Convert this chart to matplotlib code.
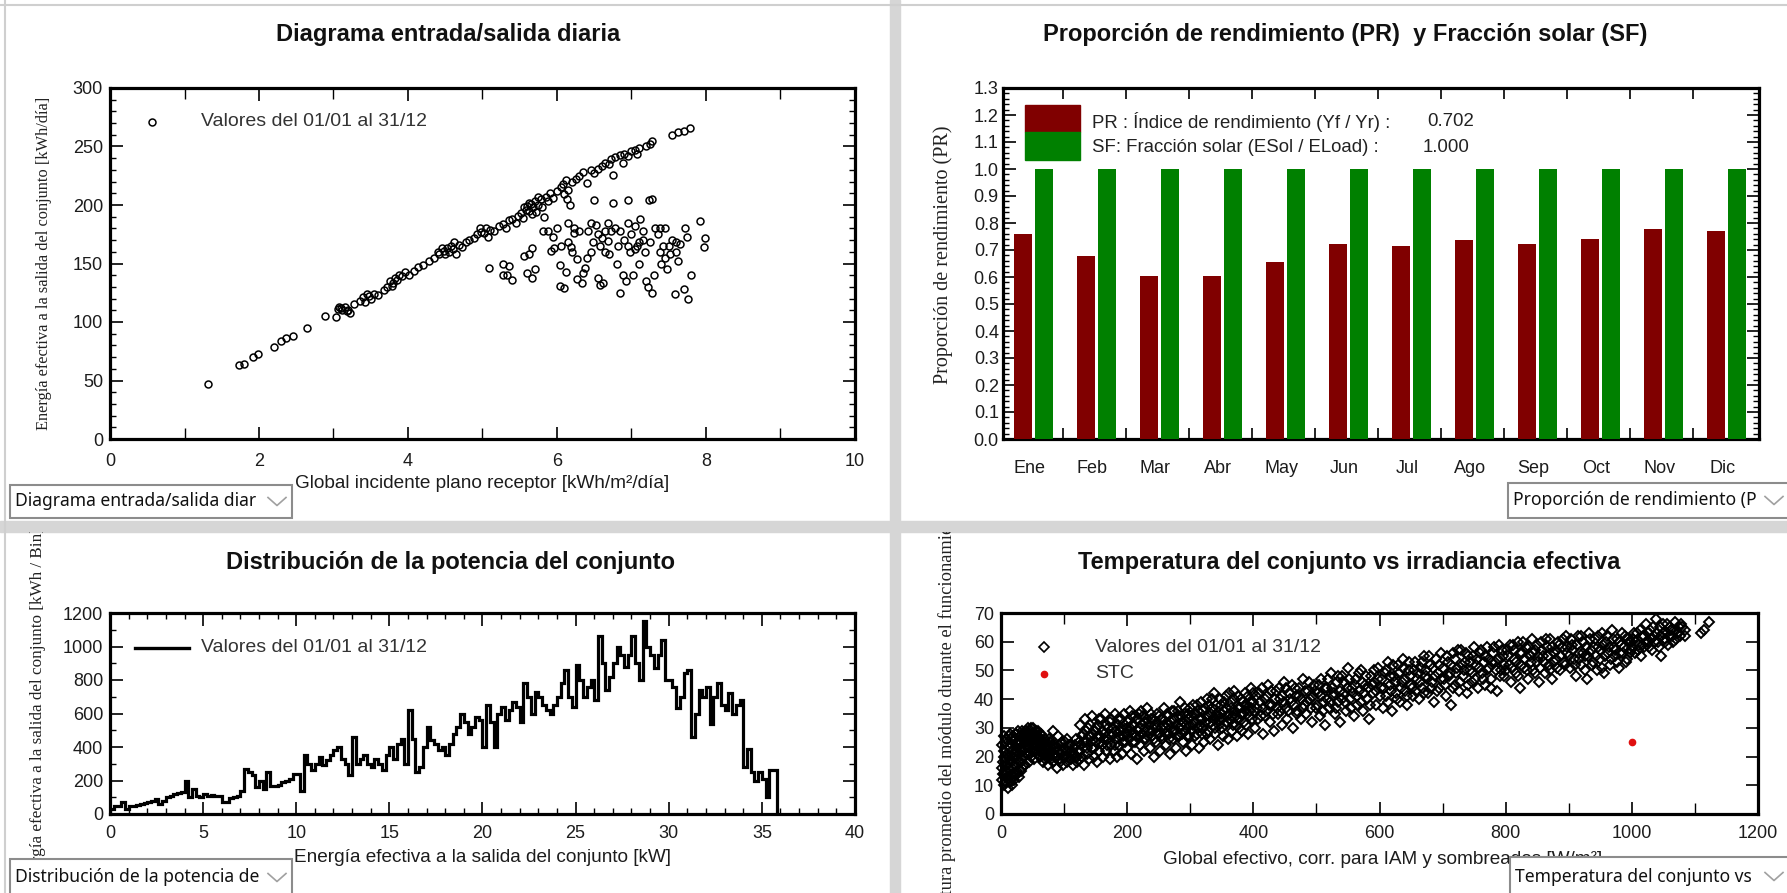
import matplotlib
matplotlib.use("Agg")
import matplotlib.pyplot as plt
import numpy as np
from matplotlib.lines import Line2D
from matplotlib.patches import Rectangle
from matplotlib.ticker import MultipleLocator, FixedLocator, FixedFormatter, FormatStrFormatter
from matplotlib.transforms import Bbox, TransformedBbox

# ---- daily input/output (kWh/m2/day -> kWh/day) ----
daily_points = [
    (1.32, 47), (1.73, 63), (1.80, 64), (1.92, 70), (1.98, 73), (2.20, 79), (2.30, 84), (2.36, 86),
    (2.45, 88), (2.64, 95), (2.88, 105), (3.04, 104), (3.06, 111), (3.08, 113), (3.10, 112), (3.12, 110),
    (3.15, 113), (3.18, 109), (3.20, 110), (3.22, 108), (3.27, 115), (3.35, 118), (3.40, 121), (3.42, 117),
    (3.45, 124), (3.47, 122), (3.50, 120), (3.55, 124), (3.60, 123), (3.68, 127), (3.72, 130), (3.76, 135),
    (3.78, 131), (3.80, 133), (3.82, 138), (3.85, 136), (3.88, 140), (3.92, 139), (3.96, 143), (4.02, 140),
    (4.08, 144), (4.14, 147), (4.20, 149), (4.28, 152), (4.35, 155), (4.40, 160), (4.42, 158), (4.46, 163),
    (4.48, 161), (4.50, 158), (4.52, 163), (4.55, 160), (4.58, 165), (4.60, 162), (4.62, 168), (4.65, 158),
    (4.68, 166), (4.72, 164), (4.78, 168), (4.82, 170), (4.88, 172), (4.92, 175), (4.96, 180), (4.98, 177),
    (5.02, 176), (5.05, 180), (5.08, 173), (5.10, 179), (5.15, 178), (5.22, 182), (5.28, 184), (5.32, 180),
    (5.36, 187), (5.40, 188), (5.45, 185), (5.48, 191), (5.52, 193), (5.55, 189), (5.56, 198), (5.58, 196),
    (5.60, 199), (5.62, 195), (5.63, 202), (5.65, 201), (5.66, 192), (5.68, 198), (5.70, 203), (5.72, 194),
    (5.74, 207), (5.75, 200), (5.78, 205), (5.80, 198), (5.82, 190), (5.85, 207), (5.88, 203), (5.90, 210),
    (5.95, 206), (6.00, 212), (6.05, 215), (6.08, 218), (6.10, 209), (6.12, 221), (6.14, 205), (6.15, 213),
    (6.18, 200), (6.20, 220), (6.25, 222), (6.30, 225), (6.35, 228), (6.40, 219), (6.45, 230), (6.50, 227),
    (6.55, 231), (6.60, 233), (6.65, 236), (6.70, 235), (6.72, 239), (6.75, 226), (6.78, 241), (6.85, 243),
    (6.88, 236), (6.90, 244), (6.95, 242), (7.00, 246), (7.05, 247), (7.08, 244), (7.10, 249), (7.20, 250),
    (7.25, 252), (7.27, 255), (7.55, 260), (7.62, 262), (7.70, 263), (7.78, 266),
    # days limited below the clear-sky line
    (5.09, 146), (5.27, 150), (5.27, 140), (5.36, 148), (5.33, 140), (5.40, 136), (5.56, 156), (5.62, 158),
    (5.60, 142), (5.67, 138), (5.67, 163), (5.81, 178), (5.88, 178), (5.92, 161), (5.96, 163), (6.04, 149),
    (6.04, 131), (6.12, 143), (6.10, 129), (6.15, 168), (6.19, 164), (6.23, 180), (6.23, 176), (6.27, 154),
    (6.27, 137), (6.33, 133), (6.35, 142), (6.38, 146), (6.42, 178), (6.45, 160), (6.48, 168), (6.50, 204),
    (6.52, 183), (6.55, 175), (6.58, 165), (6.60, 172), (6.62, 133), (6.64, 160), (6.68, 185), (6.70, 158),
    (6.72, 178), (6.75, 202), (6.78, 180), (6.80, 150), (6.82, 165), (6.85, 125), (6.88, 140), (6.90, 170),
    (6.92, 135), (6.95, 185), (6.98, 160), (7.00, 175), (7.02, 140), (7.05, 182), (7.08, 165), (7.10, 150),
    (7.12, 188), (7.15, 170), (7.18, 160), (7.20, 135), (7.22, 130), (7.25, 168), (7.27, 125), (7.28, 205),
    (7.30, 140), (7.32, 180), (7.35, 175), (7.38, 160), (7.40, 150), (7.42, 165), (7.45, 180), (7.48, 145),
    (7.50, 165), (7.52, 158), (7.55, 170), (7.58, 124), (7.60, 168), (7.62, 152), (7.65, 167), (7.70, 128),
    (7.72, 180), (7.74, 173), (7.76, 120), (7.80, 140), (7.92, 186), (7.97, 164), (7.98, 172), (6.58, 132),
    (6.30, 178), (6.20, 160), (6.95, 165), (7.05, 162), (6.85, 178), (6.45, 185), (6.15, 185), (6.68, 169),
    (7.15, 178), (7.38, 180), (6.40, 155), (6.00, 180), (5.95, 173), (6.05, 165), (6.55, 138), (5.70, 145),
    (7.45, 155), (7.60, 160), (6.95, 204), (7.23, 204), (7.10, 168), (6.65, 178),
]

# ---- monthly performance ratio and solar fraction ----
months = ["Ene", "Feb", "Mar", "Abr", "May", "Jun", "Jul", "Ago", "Sep", "Oct", "Nov", "Dic"]
pr_month = [0.761, 0.677, 0.603, 0.603, 0.656, 0.721, 0.715, 0.736, 0.721, 0.742, 0.776, 0.769]
sf_month = [1.0] * 12
pr_year = 0.702
sf_year = 1.000

# ---- array power distribution, 0.2 kW bins (kWh / bin) ----
power_bin_width = 0.2
power_energy = [
    30, 50, 50, 70, 30, 45, 50, 55, 60, 65,
    70, 80, 90, 60, 75, 100, 105, 120, 125, 130,
    200, 100, 150, 110, 100, 120, 110, 115, 105, 110,
    70, 70, 95, 100, 110, 140, 270, 250, 230, 160,
    200, 150, 250, 170, 165, 175, 190, 200, 210, 240,
    240, 140, 350, 300, 260, 300, 340, 290, 320, 350,
    380, 400, 330, 300, 230, 460, 300, 330, 350, 300,
    280, 330, 300, 260, 350, 400, 330, 420, 450, 300,
    620, 450, 250, 280, 400, 520, 440, 420, 380, 400,
    350, 420, 480, 520, 600, 550, 480, 520, 580, 560,
    400, 650, 550, 400, 600, 640, 560, 620, 670, 640,
    550, 780, 700, 600, 730, 700, 650, 620, 600, 650,
    700, 780, 860, 700, 640, 890, 800, 700, 760, 800,
    680, 1060, 900, 740, 820, 900, 1000, 950, 880, 950,
    1060, 900, 800, 1150, 1000, 950, 870, 950, 1040, 800,
    800, 760, 630, 700, 840, 860, 460, 600, 740, 700,
    760, 540, 700, 780, 650, 620, 720, 600, 650, 680,
    280, 390, 250, 200, 250, 210, 100, 260, 260,
]

# ---- array temperature vs effective irradiance (W/m2, degC) ----
temp_points = [
    (2, 12), (3, 18), (4, 22), (5, 10), (6, 15), (7, 25), (8, 19), (9, 13), (10, 21), (11, 9), (12, 16),
    (13, 27), (14, 23), (15, 11), (16, 18), (17, 14), (18, 24), (19, 20), (20, 12), (21, 26), (22, 17),
    (23, 22), (24, 28), (25, 15), (26, 19), (27, 24), (28, 13), (29, 21), (30, 27), (31, 18), (32, 25),
    (33, 16), (34, 29), (35, 22), (36, 20), (37, 27), (38, 17), (39, 24), (40, 29), (3, 14), (5, 20),
    (7, 11), (9, 17), (12, 23), (14, 19), (16, 26), (18, 10), (22, 14), (26, 25), (30, 23), (34, 19),
    (38, 26), (41, 21), (42, 26), (43, 30), (44, 23), (45, 18), (46, 28), (47, 25), (48, 20), (49, 27),
    (50, 30), (51, 22), (52, 26), (53, 19), (54, 28), (55, 24), (56, 29), (57, 21), (58, 25), (59, 27),
    (60, 23), (62, 20), (63, 26), (64, 28), (65, 22), (66, 18), (67, 24), (68, 21), (70, 19), (71, 25),
    (72, 23), (74, 17), (75, 21), (76, 26), (78, 20), (79, 23), (80, 22), (82, 18), (83, 29), (85, 24),
    (86, 20), (88, 16), (90, 22), (91, 27), (93, 19), (95, 21), (96, 25), (98, 17), (100, 23), (102, 20),
    (104, 18), (105, 26), (107, 22), (109, 19), (110, 24), (112, 21), (114, 17), (115, 23), (117, 20),
    (119, 26), (120, 18), (122, 22), (124, 19), (125, 31), (127, 24), (129, 20), (130, 28), (132, 17),
    (133, 33), (135, 25), (137, 21), (138, 30), (140, 19), (142, 27), (144, 23), (145, 34), (147, 20),
    (149, 29), (150, 25), (152, 18), (154, 31), (156, 22), (157, 27), (159, 33), (160, 24), (162, 20),
    (164, 28), (165, 35), (167, 22), (169, 26), (170, 30), (172, 19), (174, 33), (175, 24), (177, 28),
    (179, 22), (180, 35), (182, 26), (184, 20), (185, 31), (187, 24), (189, 29), (190, 33), (192, 21),
    (194, 27), (195, 35), (197, 25), (199, 30), (200, 23), (202, 28), (204, 36), (206, 21), (208, 31),
    (210, 25), (212, 34), (214, 27), (216, 19), (218, 30), (220, 24), (222, 36), (224, 28), (226, 22),
    (228, 32), (230, 26), (232, 37), (234, 29), (236, 23), (238, 33), (240, 27), (242, 20), (244, 31),
    (246, 25), (248, 35), (250, 28), (252, 22), (254, 33), (256, 26), (258, 37), (260, 30), (262, 24),
    (264, 34), (266, 28), (268, 21), (270, 32), (272, 26), (274, 36), (276, 29), (278, 23), (280, 34),
    (282, 27), (284, 39), (286, 31), (288, 25), (290, 35), (292, 29), (294, 22), (296, 33), (298, 27),
    (300, 37), (302, 24), (304, 31), (306, 35), (308, 27), (310, 38), (312, 30), (314, 23), (316, 33),
    (318, 28), (320, 36), (322, 25), (324, 32), (326, 40), (328, 29), (330, 34), (332, 26), (334, 37),
    (336, 31), (338, 42), (340, 28), (342, 35), (344, 24), (346, 33), (348, 38), (350, 30), (352, 27),
    (354, 36), (356, 41), (358, 32), (360, 26), (362, 35), (364, 39), (366, 29), (368, 34), (370, 43),
    (372, 31), (374, 27), (376, 37), (378, 33), (380, 40), (382, 29), (384, 35), (386, 42), (388, 31),
    (390, 38), (392, 28), (394, 36), (396, 44), (398, 33), (400, 39), (403, 30), (406, 37), (409, 42),
    (412, 34), (415, 28), (418, 40), (421, 36), (424, 45), (427, 32), (430, 38), (433, 29), (436, 43),
    (439, 35), (442, 40), (445, 31), (448, 46), (451, 37), (454, 33), (457, 42), (460, 39), (463, 30),
    (466, 44), (469, 36), (472, 41), (475, 33), (478, 47), (481, 38), (484, 35), (487, 43), (490, 40),
    (493, 32), (496, 45), (499, 37), (502, 42), (505, 34), (508, 47), (511, 39), (514, 31), (517, 44),
    (520, 37), (523, 49), (526, 41), (529, 35), (532, 46), (535, 39), (538, 32), (541, 48), (544, 42),
    (547, 36), (550, 51), (553, 40), (556, 44), (559, 34), (562, 47), (565, 38), (568, 43), (571, 50),
    (574, 36), (577, 45), (580, 40), (583, 33), (586, 48), (589, 42), (592, 46), (595, 38), (598, 51),
    (602, 44), (605, 37), (608, 49), (611, 41), (614, 53), (617, 45), (620, 36), (623, 48), (626, 42),
    (629, 52), (632, 39), (635, 46), (638, 54), (641, 43), (644, 38), (647, 50), (650, 45), (653, 41),
    (656, 53), (659, 47), (662, 40), (665, 51), (668, 44), (671, 55), (674, 48), (677, 42), (680, 52),
    (683, 46), (686, 39), (689, 54), (692, 49), (695, 44), (698, 56), (702, 47), (705, 41), (708, 53),
    (711, 49), (714, 38), (717, 56), (720, 45), (723, 51), (726, 43), (729, 57), (732, 48), (735, 53),
    (738, 42), (741, 55), (744, 50), (747, 46), (750, 58), (753, 52), (756, 44), (759, 56), (762, 49),
    (765, 53), (768, 45), (771, 58), (774, 51), (777, 47), (780, 56), (783, 53), (786, 43), (789, 59),
    (792, 50), (795, 55), (798, 48), (802, 57), (805, 52), (808, 46), (811, 59), (814, 54), (817, 49),
    (820, 60), (823, 44), (826, 56), (829, 51), (832, 58), (835, 47), (838, 55), (841, 61), (844, 50),
    (847, 57), (850, 53), (853, 46), (856, 60), (859, 55), (862, 49), (865, 58), (868, 52), (871, 61),
    (874, 47), (877, 56), (880, 54), (883, 60), (886, 50), (889, 58), (892, 53), (895, 62), (898, 56),
    (902, 51), (905, 59), (908, 54), (911, 48), (914, 62), (917, 56), (920, 52), (923, 60), (926, 55),
    (929, 47), (932, 63), (935, 57), (938, 53), (941, 61), (944, 50), (947, 58), (950, 54), (953, 63),
    (956, 49), (959, 60), (962, 56), (965, 52), (968, 64), (971, 58), (974, 55), (977, 61), (980, 51),
    (983, 59), (986, 56), (989, 62), (992, 54), (995, 60), (998, 57), (1002, 61), (1005, 56), (1008, 63),
    (1011, 59), (1014, 55), (1017, 62), (1020, 58), (1023, 66), (1026, 60), (1029, 64), (1032, 57),
    (1035, 62), (1038, 68), (1041, 60), (1044, 65), (1047, 55), (1050, 63), (1053, 60), (1056, 66),
    (1059, 62), (1062, 64), (1065, 60), (1068, 67), (1071, 63), (1074, 65), (1078, 66), (1085, 64),
    (1110, 63), (1115, 64), (1122, 67),
    (1, 16), (2, 24), (4, 14), (5, 27), (6, 20), (8, 11), (8, 26), (10, 15), (11, 24), (13, 20), (14, 12),
    (15, 28), (17, 22), (18, 16), (19, 27), (21, 13), (22, 21), (23, 28), (25, 23), (26, 14), (27, 29),
    (28, 18), (29, 25), (31, 22), (32, 15), (33, 28), (35, 26), (36, 17), (37, 23), (39, 21), (40, 25),
    (41, 28), (43, 24), (44, 27), (45, 29), (46, 21), (47, 30), (48, 26), (50, 24), (51, 28), (53, 25),
    (54, 22), (55, 27), (57, 26), (58, 29), (60, 26), (61, 22), (62, 28), (64, 24), (66, 25), (67, 21),
    (69, 23), (70, 26), (72, 20), (73, 24), (75, 23), (77, 22), (78, 25), (80, 19), (81, 24), (84, 21),
    (87, 23), (89, 20), (92, 24), (94, 18), (97, 22), (99, 20), (101, 25), (103, 22), (106, 20), (108, 24),
    (111, 19), (113, 22), (116, 21), (118, 24), (121, 20), (123, 25), (126, 22), (128, 27), (131, 25),
    (134, 29), (136, 23), (139, 27), (141, 31), (143, 25), (146, 28), (148, 23), (151, 30), (153, 27),
    (155, 33), (158, 25), (161, 29), (163, 26), (166, 31), (168, 24), (171, 28), (173, 32), (176, 27),
    (178, 30), (181, 24), (183, 29), (186, 33), (188, 27), (191, 30), (193, 25), (196, 31), (198, 28),
    (201, 32), (203, 26), (205, 30), (207, 34), (209, 28), (211, 31), (213, 25), (215, 33), (217, 29),
    (219, 35), (221, 27), (223, 31), (225, 34), (227, 26), (229, 30), (231, 33), (233, 27), (235, 31),
    (237, 35), (239, 29), (241, 33), (243, 26), (245, 30), (247, 32), (249, 28), (251, 34), (253, 30),
    (255, 27), (257, 33), (259, 31), (261, 28), (263, 35), (265, 31), (267, 26), (269, 30), (271, 36),
    (273, 29), (275, 33), (277, 31), (279, 27), (281, 36), (283, 30), (285, 34), (287, 28), (289, 32),
    (291, 37), (293, 31), (295, 27), (297, 35), (299, 31), (301, 34), (303, 29), (305, 38), (307, 32),
    (309, 35), (311, 28), (313, 36), (315, 31), (317, 39), (319, 33), (321, 30), (323, 37), (325, 34),
    (327, 28), (329, 38), (331, 32), (333, 35), (335, 40), (337, 33), (339, 30), (341, 38), (343, 34),
    (345, 31), (347, 40), (349, 35), (351, 33), (353, 39), (355, 31), (357, 37), (359, 34), (361, 42),
    (363, 33), (365, 37), (367, 31), (369, 40), (371, 36), (373, 34), (375, 41), (377, 30), (379, 37),
    (381, 35), (383, 39), (385, 32), (387, 38), (389, 36), (391, 41), (393, 34), (395, 39), (397, 37),
    (399, 42), (401, 36), (404, 41), (407, 33), (410, 39), (413, 44), (416, 37), (419, 34), (422, 41),
    (425, 38), (428, 43), (431, 35), (434, 40), (437, 37), (440, 44), (443, 36), (446, 41), (449, 39),
    (452, 44), (455, 36), (458, 40), (461, 45), (464, 38), (467, 41), (470, 35), (473, 44), (476, 40),
    (479, 37), (482, 43), (485, 39), (488, 46), (491, 37), (494, 41), (497, 43), (501, 38), (504, 45),
    (507, 41), (510, 36), (513, 44), (516, 40), (519, 47), (522, 39), (525, 44), (528, 42), (531, 37),
    (534, 48), (537, 43), (540, 40), (543, 46), (546, 39), (549, 44), (552, 47), (555, 37), (558, 42),
    (561, 45), (564, 41), (567, 49), (570, 39), (573, 46), (576, 42), (579, 48), (582, 44), (585, 38),
    (588, 45), (591, 50), (594, 43), (597, 47), (601, 41), (604, 47), (607, 44), (610, 50), (613, 39),
    (616, 48), (619, 43), (622, 52), (625, 46), (628, 40), (631, 49), (634, 44), (637, 51), (640, 47),
    (643, 41), (646, 53), (649, 48), (652, 44), (655, 50), (658, 43), (661, 49), (664, 46), (667, 53),
    (670, 42), (673, 50), (676, 47), (679, 55), (682, 44), (685, 51), (688, 48), (691, 43), (694, 52),
    (697, 47), (701, 51), (704, 45), (707, 55), (710, 48), (713, 52), (716, 44), (719, 54), (722, 49),
    (725, 57), (728, 46), (731, 52), (734, 50), (737, 56), (740, 45), (743, 53), (746, 49), (749, 55),
    (752, 47), (755, 54), (758, 51), (761, 57), (764, 47), (767, 55), (770, 50), (773, 54), (776, 44),
    (779, 53), (782, 58), (785, 50), (788, 54), (791, 48), (794, 57), (797, 52), (801, 50), (804, 55),
    (807, 59), (810, 51), (813, 57), (816, 53), (819, 48), (822, 56), (825, 52), (828, 60), (831, 54),
    (834, 50), (837, 58), (840, 53), (843, 56), (846, 49), (849, 59), (852, 55), (855, 51), (858, 57),
    (861, 53), (864, 61), (867, 55), (870, 50), (873, 58), (876, 53), (879, 57), (882, 51), (885, 59),
    (888, 55), (891, 61), (894, 52), (897, 58), (901, 55), (904, 61), (907, 57), (910, 52), (913, 59),
    (916, 54), (919, 62), (922, 56), (925, 50), (928, 58), (931, 55), (934, 61), (937, 52), (940, 58),
    (943, 55), (946, 62), (949, 57), (952, 51), (955, 59), (958, 55), (961, 62), (964, 58), (967, 54),
    (970, 61), (973, 57), (976, 53), (979, 60), (982, 56), (985, 63), (988, 58), (991, 53), (994, 61),
    (997, 56), (999, 60), (1001, 58), (1004, 63), (1007, 60), (1010, 57), (1013, 64), (1016, 59),
    (1019, 62), (1022, 60), (1025, 63), (1028, 58), (1031, 61), (1034, 65), (1037, 60), (1040, 63),
    (1043, 58), (1046, 62), (1049, 66), (1052, 61), (1055, 63), (1058, 59), (1061, 65), (1064, 62),
    (1067, 64), (1070, 61), (1073, 63), (1076, 62), (1080, 65), (1084, 62),
]
stc_point = (1000, 25)

W, H = 1787, 893
SANS = "Liberation Sans"
SERIF = "Liberation Serif"
UI = "Noto Sans"
plt.rcParams["font.family"] = [SANS, "DejaVu Sans"]

fig = plt.figure(figsize=(W / 100, H / 100), dpi=100, facecolor="white")


def fx(x):
    return x / W


def fy(y):
    return 1 - y / H


def px_rect(x0, y0, x1, y1):
    return [fx(x0), fy(y1), (x1 - x0) / W, (y1 - y0) / H]


def fig_clip(x0, y0, x1, y1):
    return TransformedBbox(Bbox.from_extents(fx(x0), fy(y1), fx(x1), fy(y0)), fig.transFigure)


def frame(ax):
    for s in ax.spines.values():
        s.set_linewidth(2.3)
        s.set_color("black")
    ax.tick_params(which="both", direction="in", top=True, right=True, color="black",
                   labelsize=13, labelcolor="#1c1c1c")
    ax.tick_params(which="major", length=9, width=1.2)
    ax.tick_params(which="minor", length=4.5, width=1.0)
    ax.tick_params(axis="y", which="major", pad=5)
    ax.tick_params(axis="x", which="major", pad=10)


def title(x, y, s):
    fig.text(fx(x), fy(y), s, ha="center", va="center", fontsize=17, fontweight="bold", color="#111111")


def ylabel(x, y, s, clip, size):
    t = fig.text(fx(x), fy(y), s, ha="center", va="center", rotation=90, family=SERIF,
                 fontsize=size, color="#222222")
    t.set_clip_box(fig_clip(*clip))


def xlabel(x, y, s):
    fig.text(fx(x), fy(y), s, ha="center", va="center", fontsize=13.7, color="#1c1c1c")


def dropdown(x0, y0, x1, y1, s):
    fig.add_artist(Rectangle((fx(x0), fy(y1)), (x1 - x0) / W, (y1 - y0) / H, transform=fig.transFigure,
                             facecolor="white", edgecolor="#8c8c8c", linewidth=1.5, zorder=10))
    ym = (y0 + y1) / 2
    t = fig.text(fx(x0 + 5), fy(ym), s, ha="left", va="center", family=UI, fontsize=12.6,
                 color="#111111", zorder=11)
    t.set_clip_box(fig_clip(x0, y0, x1 - 27, y1))
    fig.add_artist(Line2D([fx(x1 - 24), fx(x1 - 15), fx(x1 - 6)], [fy(ym - 4), fy(ym + 4), fy(ym - 4)],
                          transform=fig.transFigure, color="#a0a0a0", linewidth=1.2, zorder=11))


def legend_text(x, y, s):
    fig.text(fx(x), fy(y), s, ha="left", va="center", fontsize=14, color="#333333")


# panel separators
fig.add_artist(Rectangle((fx(890), 0), 10 / W, 1, transform=fig.transFigure, color="#d6d6d6", zorder=0))
fig.add_artist(Rectangle((0, fy(532)), 1, 11 / H, transform=fig.transFigure, color="#d6d6d6", zorder=0))
fig.add_artist(Line2D([0, 1], [fy(5), fy(5)], transform=fig.transFigure, color="#cfcfcf", linewidth=1.5))
fig.add_artist(Line2D([fx(5), fx(5)], [0, 1], transform=fig.transFigure, color="#cfcfcf", linewidth=1.5))

# ---- top left: daily input/output diagram ----
ax1 = fig.add_axes(px_rect(110, 88, 855, 439))
dx, dy = np.array(daily_points).T
ax1.plot(dx, dy, "o", mfc="none", mec="black", ms=5.0, mew=1.1, clip_on=False)
ax1.set_xlim(0, 10)
ax1.set_ylim(0, 300)
ax1.xaxis.set_major_locator(MultipleLocator(2))
ax1.xaxis.set_minor_locator(MultipleLocator(1))
ax1.yaxis.set_major_locator(MultipleLocator(50))
ax1.yaxis.set_minor_locator(MultipleLocator(10))
frame(ax1)
ax1.tick_params(axis="x", which="minor", length=8)
fig.add_artist(Line2D([fx(152)], [fy(122)], marker="o", mfc="none", mec="black", ms=5.0, mew=1.1,
                      transform=fig.transFigure))
legend_text(201, 122, "Valores del 01/01 al 31/12")
title(448, 35, "Diagrama entrada/salida diaria")
xlabel(482, 484, "Global incidente plano receptor [kWh/m²/día]")
ylabel(44, 263, "Energía efectiva a la salida del conjunto [kWh/día]", (5, 5, 890, 521), 11.8)

# ---- top right: performance ratio and solar fraction ----
ax2 = fig.add_axes(px_rect(1003, 88, 1759, 439))
m = np.arange(len(months))
ax2.bar(m + 0.365, pr_month, width=0.28, color="#800000", zorder=3)
ax2.bar(m + 0.70, sf_month, width=0.28, color="#008000", zorder=3)
ax2.set_xlim(0.05, 12.05)
ax2.set_ylim(0, 1.3)
ax2.xaxis.set_major_locator(FixedLocator(np.arange(1, 12)))
ax2.xaxis.set_minor_locator(FixedLocator(m + 0.47))
ax2.xaxis.set_minor_formatter(FixedFormatter(months))
ax2.set_xticklabels([])
ax2.yaxis.set_major_locator(MultipleLocator(0.1))
ax2.yaxis.set_minor_locator(MultipleLocator(0.02))
ax2.yaxis.set_major_formatter(FormatStrFormatter("%.1f"))
frame(ax2)
ax2.tick_params(axis="x", which="major", length=8)
ax2.tick_params(axis="x", which="minor", length=0, pad=15, labelsize=13)
ax2.tick_params(axis="y", which="major", pad=3)
fig.add_artist(Rectangle((fx(1025), fy(132)), 55 / W, 27 / H, transform=fig.transFigure, color="#800000"))
fig.add_artist(Rectangle((fx(1025), fy(160)), 55 / W, 28 / H, transform=fig.transFigure, color="#008000"))
fig.text(fx(1092), fy(122), "PR : Índice de rendimiento (Yf / Yr) :", ha="left", va="center",
         fontsize=13.4, color="#222222")
fig.text(fx(1092), fy(147), "SF: Fracción solar (ESol / ELoad) :", ha="left", va="center",
         fontsize=13.4, color="#222222")
fig.text(fx(1474), fy(122), f"{pr_year:.3f}", ha="right", va="center", fontsize=13.4, color="#222222")
fig.text(fx(1470), fy(147), f"{sf_year:.3f}", ha="right", va="center", fontsize=13.4, color="#222222")
title(1345, 35, "Proporción de rendimiento (PR)  y Fracción solar (SF)")
ylabel(943, 255, "Proporción de rendimiento (PR)", (900, 5, 1787, 521), 14.5)

# ---- bottom left: array power distribution ----
ax3 = fig.add_axes(px_rect(110, 613, 855, 814))
edges = np.arange(len(power_energy) + 1) * power_bin_width
ax3.stairs(power_energy, edges, baseline=0, color="black", linewidth=2.3)
ax3.set_xlim(0, 40)
ax3.set_ylim(0, 1200)
ax3.xaxis.set_major_locator(MultipleLocator(5))
ax3.xaxis.set_minor_locator(MultipleLocator(1))
ax3.yaxis.set_major_locator(MultipleLocator(200))
ax3.yaxis.set_minor_locator(MultipleLocator(100))
frame(ax3)
ax3.tick_params(axis="x", which="major", pad=8)
fig.add_artist(Line2D([fx(135), fx(189)], [fy(648), fy(648)], transform=fig.transFigure,
                      color="black", linewidth=2.4))
legend_text(201, 648, "Valores del 01/01 al 31/12")
title(451, 562, "Distribución de la potencia del conjunto")
xlabel(482, 857, "Energía efectiva a la salida del conjunto [kW]")
ylabel(38, 707, "Energía efectiva a la salida del conjunto [kWh / Bin]", (5, 532, 890, 893), 12.3)

# ---- bottom right: array temperature vs effective irradiance ----
ax4 = fig.add_axes(px_rect(1001, 613, 1758, 814))
tx, ty = np.array(temp_points).T
ax4.plot(tx, ty, "D", mfc="none", mec="black", ms=5.0, mew=1.4, clip_on=False)
ax4.plot(*stc_point, "o", color="#e01010", ms=4.5)
ax4.set_xlim(0, 1200)
ax4.set_ylim(0, 70)
ax4.xaxis.set_major_locator(MultipleLocator(200))
ax4.xaxis.set_minor_locator(MultipleLocator(100))
ax4.yaxis.set_major_locator(MultipleLocator(10))
frame(ax4)
ax4.tick_params(axis="x", which="minor", length=8)
ax4.tick_params(axis="x", which="major", pad=8)
fig.add_artist(Line2D([fx(1044)], [fy(647)], marker="D", mfc="none", mec="black", ms=4.8, mew=1.2,
                      transform=fig.transFigure))
fig.add_artist(Line2D([fx(1044)], [fy(674)], marker="o", color="#e01010", ms=4.5,
                      transform=fig.transFigure))
legend_text(1095, 647, "Valores del 01/01 al 31/12")
legend_text(1095, 674, "STC")
title(1349, 562, "Temperatura del conjunto vs irradiancia efectiva")
xlabel(1383, 859, "Global efectivo, corr. para IAM y sombreados [W/m²]")
ylabel(947, 712, "Temperatura promedio del módulo durante el funcionamiento [°C]", (900, 532, 1787, 893), 13.3)

# ---- selector boxes ----
dropdown(10, 485, 292, 518, "Diagrama entrada/salida diar")
dropdown(1508, 483, 1789, 518, "Proporción de rendimiento (P")
dropdown(10, 859, 292, 896, "Distribución de la potencia de")
dropdown(1510, 857, 1789, 896, "Temperatura del conjunto vs")

fig.savefig("out.png", dpi=100, facecolor="white")
